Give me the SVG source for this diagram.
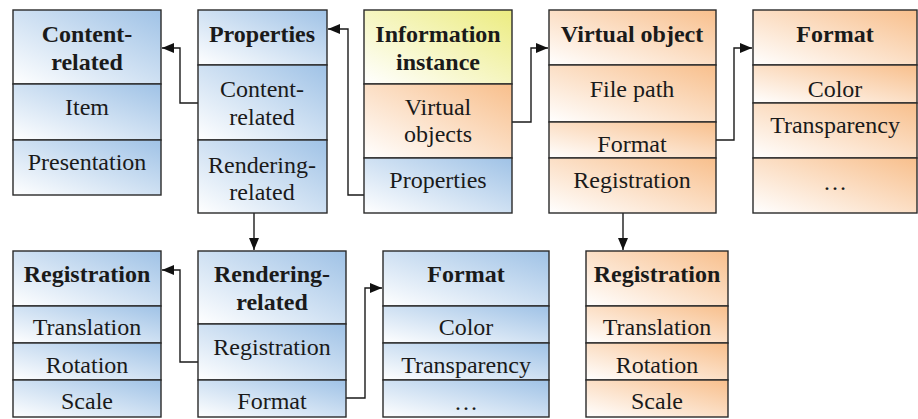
<svg xmlns="http://www.w3.org/2000/svg" width="918" height="419" viewBox="0 0 918 419">
<defs>
<linearGradient id="gb" x1="0" y1="1" x2="1" y2="0"><stop offset="0" stop-color="#ffffff"/><stop offset="1" stop-color="#9fc2e6"/></linearGradient>
<linearGradient id="go" x1="0" y1="1" x2="1" y2="0"><stop offset="0" stop-color="#ffffff"/><stop offset="1" stop-color="#f8bf8c"/></linearGradient>
<linearGradient id="gy" x1="0" y1="1" x2="1" y2="0"><stop offset="0" stop-color="#ffffff"/><stop offset="1" stop-color="#ecec80"/></linearGradient>
<marker id="ah" viewBox="0 0 12 10" refX="12" refY="5" markerWidth="12" markerHeight="10" markerUnits="userSpaceOnUse" orient="auto"><path d="M0,0 L12,5 L0,10 z" fill="#111"/></marker>
</defs>
<g id="connectors" fill="none" stroke="#1a1a1a" stroke-width="1.4" marker-end="url(#ah)">
<path d="M198,103 H180 V48 H162"/>
<path d="M364,195 H348 V29 H328"/>
<path d="M512,122 H531 V48 H548"/>
<path d="M716,140 H734 V48 H752"/>
<path d="M254,213 V250"/>
<path d="M198,362 H180 V270 H162"/>
<path d="M346,398 H365 V288 H382"/>
<path d="M623,213 V250"/>
</g>
<g id="content-related">
<rect fill="url(#gb)" stroke="#2a2a2a" stroke-width="1.4" x="13" y="10" width="148" height="74"/>
<rect fill="url(#gb)" stroke="#2a2a2a" stroke-width="1.4" x="13" y="84" width="148" height="56"/>
<rect fill="url(#gb)" stroke="#2a2a2a" stroke-width="1.4" x="13" y="140" width="148" height="55"/>
<text font-family="Liberation Serif" font-size="24" font-weight="bold" text-anchor="middle" fill="#1a1a1a" x="87" y="42">Content-</text>
<text font-family="Liberation Serif" font-size="24" font-weight="bold" text-anchor="middle" fill="#1a1a1a" x="87" y="70">related</text>
<text font-family="Liberation Serif" font-size="24" text-anchor="middle" fill="#1a1a1a" x="87" y="115">Item</text>
<text font-family="Liberation Serif" font-size="24" text-anchor="middle" fill="#1a1a1a" x="87" y="170">Presentation</text>
</g>
<g id="properties">
<rect fill="url(#gb)" stroke="#2a2a2a" stroke-width="1.4" x="198" y="10" width="129" height="55"/>
<rect fill="url(#gb)" stroke="#2a2a2a" stroke-width="1.4" x="198" y="65" width="129" height="75"/>
<rect fill="url(#gb)" stroke="#2a2a2a" stroke-width="1.4" x="198" y="140" width="129" height="73"/>
<text font-family="Liberation Serif" font-size="24" font-weight="bold" text-anchor="middle" fill="#1a1a1a" x="262" y="42">Properties</text>
<text font-family="Liberation Serif" font-size="24" text-anchor="middle" fill="#1a1a1a" x="262" y="97">Content-</text>
<text font-family="Liberation Serif" font-size="24" text-anchor="middle" fill="#1a1a1a" x="262" y="125">related</text>
<text font-family="Liberation Serif" font-size="24" text-anchor="middle" fill="#1a1a1a" x="262" y="173">Rendering-</text>
<text font-family="Liberation Serif" font-size="24" text-anchor="middle" fill="#1a1a1a" x="262" y="200">related</text>
</g>
<g id="information-instance">
<rect fill="url(#gy)" stroke="#2a2a2a" stroke-width="1.4" x="364" y="10" width="148" height="74"/>
<rect fill="url(#go)" stroke="#2a2a2a" stroke-width="1.4" x="364" y="84" width="148" height="74"/>
<rect fill="url(#gb)" stroke="#2a2a2a" stroke-width="1.4" x="364" y="158" width="148" height="55"/>
<text font-family="Liberation Serif" font-size="24" font-weight="bold" text-anchor="middle" fill="#1a1a1a" x="438" y="42">Information</text>
<text font-family="Liberation Serif" font-size="24" font-weight="bold" text-anchor="middle" fill="#1a1a1a" x="438" y="70">instance</text>
<text font-family="Liberation Serif" font-size="24" text-anchor="middle" fill="#1a1a1a" x="438" y="115">Virtual</text>
<text font-family="Liberation Serif" font-size="24" text-anchor="middle" fill="#1a1a1a" x="438" y="142">objects</text>
<text font-family="Liberation Serif" font-size="24" text-anchor="middle" fill="#1a1a1a" x="438" y="188">Properties</text>
</g>
<g id="virtual-object">
<rect fill="url(#go)" stroke="#2a2a2a" stroke-width="1.4" x="549" y="10" width="167" height="55"/>
<rect fill="url(#go)" stroke="#2a2a2a" stroke-width="1.4" x="549" y="65" width="167" height="57"/>
<rect fill="url(#go)" stroke="#2a2a2a" stroke-width="1.4" x="549" y="122" width="167" height="36"/>
<rect fill="url(#go)" stroke="#2a2a2a" stroke-width="1.4" x="549" y="158" width="167" height="55"/>
<text font-family="Liberation Serif" font-size="24" font-weight="bold" text-anchor="middle" fill="#1a1a1a" x="632" y="42">Virtual object</text>
<text font-family="Liberation Serif" font-size="24" text-anchor="middle" fill="#1a1a1a" x="632" y="97">File path</text>
<text font-family="Liberation Serif" font-size="24" text-anchor="middle" fill="#1a1a1a" x="632" y="152">Format</text>
<text font-family="Liberation Serif" font-size="24" text-anchor="middle" fill="#1a1a1a" x="632" y="188">Registration</text>
</g>
<g id="format-orange">
<rect fill="url(#go)" stroke="#2a2a2a" stroke-width="1.4" x="753" y="10" width="164" height="55"/>
<rect fill="url(#go)" stroke="#2a2a2a" stroke-width="1.4" x="753" y="65" width="164" height="38"/>
<rect fill="url(#go)" stroke="#2a2a2a" stroke-width="1.4" x="753" y="103" width="164" height="55"/>
<rect fill="url(#go)" stroke="#2a2a2a" stroke-width="1.4" x="753" y="158" width="164" height="55"/>
<text font-family="Liberation Serif" font-size="24" font-weight="bold" text-anchor="middle" fill="#1a1a1a" x="835" y="42">Format</text>
<text font-family="Liberation Serif" font-size="24" text-anchor="middle" fill="#1a1a1a" x="835" y="97">Color</text>
<text font-family="Liberation Serif" font-size="24" text-anchor="middle" fill="#1a1a1a" x="835" y="133">Transparency</text>
<text font-family="Liberation Serif" font-size="24" text-anchor="middle" fill="#1a1a1a" x="835" y="190">…</text>
</g>
<g id="registration-blue">
<rect fill="url(#gb)" stroke="#2a2a2a" stroke-width="1.4" x="13" y="251" width="148" height="55"/>
<rect fill="url(#gb)" stroke="#2a2a2a" stroke-width="1.4" x="13" y="306" width="148" height="37"/>
<rect fill="url(#gb)" stroke="#2a2a2a" stroke-width="1.4" x="13" y="343" width="148" height="37"/>
<rect fill="url(#gb)" stroke="#2a2a2a" stroke-width="1.4" x="13" y="380" width="148" height="37"/>
<text font-family="Liberation Serif" font-size="24" font-weight="bold" text-anchor="middle" fill="#1a1a1a" x="87" y="282">Registration</text>
<text font-family="Liberation Serif" font-size="24" text-anchor="middle" fill="#1a1a1a" x="87" y="335">Translation</text>
<text font-family="Liberation Serif" font-size="24" text-anchor="middle" fill="#1a1a1a" x="87" y="373">Rotation</text>
<text font-family="Liberation Serif" font-size="24" text-anchor="middle" fill="#1a1a1a" x="87" y="409">Scale</text>
</g>
<g id="rendering-related">
<rect fill="url(#gb)" stroke="#2a2a2a" stroke-width="1.4" x="198" y="251" width="148" height="73"/>
<rect fill="url(#gb)" stroke="#2a2a2a" stroke-width="1.4" x="198" y="324" width="148" height="56"/>
<rect fill="url(#gb)" stroke="#2a2a2a" stroke-width="1.4" x="198" y="380" width="148" height="37"/>
<text font-family="Liberation Serif" font-size="24" font-weight="bold" text-anchor="middle" fill="#1a1a1a" x="272" y="282">Rendering-</text>
<text font-family="Liberation Serif" font-size="24" font-weight="bold" text-anchor="middle" fill="#1a1a1a" x="272" y="310">related</text>
<text font-family="Liberation Serif" font-size="24" text-anchor="middle" fill="#1a1a1a" x="272" y="355">Registration</text>
<text font-family="Liberation Serif" font-size="24" text-anchor="middle" fill="#1a1a1a" x="272" y="409">Format</text>
</g>
<g id="format-blue">
<rect fill="url(#gb)" stroke="#2a2a2a" stroke-width="1.4" x="383" y="251" width="166" height="55"/>
<rect fill="url(#gb)" stroke="#2a2a2a" stroke-width="1.4" x="383" y="306" width="166" height="37"/>
<rect fill="url(#gb)" stroke="#2a2a2a" stroke-width="1.4" x="383" y="343" width="166" height="37"/>
<rect fill="url(#gb)" stroke="#2a2a2a" stroke-width="1.4" x="383" y="380" width="166" height="37"/>
<text font-family="Liberation Serif" font-size="24" font-weight="bold" text-anchor="middle" fill="#1a1a1a" x="466" y="282">Format</text>
<text font-family="Liberation Serif" font-size="24" text-anchor="middle" fill="#1a1a1a" x="466" y="335">Color</text>
<text font-family="Liberation Serif" font-size="24" text-anchor="middle" fill="#1a1a1a" x="466" y="373">Transparency</text>
<text font-family="Liberation Serif" font-size="24" text-anchor="middle" fill="#1a1a1a" x="466" y="410">…</text>
</g>
<g id="registration-orange">
<rect fill="url(#go)" stroke="#2a2a2a" stroke-width="1.4" x="586" y="251" width="142" height="55"/>
<rect fill="url(#go)" stroke="#2a2a2a" stroke-width="1.4" x="586" y="306" width="142" height="37"/>
<rect fill="url(#go)" stroke="#2a2a2a" stroke-width="1.4" x="586" y="343" width="142" height="37"/>
<rect fill="url(#go)" stroke="#2a2a2a" stroke-width="1.4" x="586" y="380" width="142" height="37"/>
<text font-family="Liberation Serif" font-size="24" font-weight="bold" text-anchor="middle" fill="#1a1a1a" x="657" y="282">Registration</text>
<text font-family="Liberation Serif" font-size="24" text-anchor="middle" fill="#1a1a1a" x="657" y="335">Translation</text>
<text font-family="Liberation Serif" font-size="24" text-anchor="middle" fill="#1a1a1a" x="657" y="373">Rotation</text>
<text font-family="Liberation Serif" font-size="24" text-anchor="middle" fill="#1a1a1a" x="657" y="409">Scale</text>
</g>
</svg>
